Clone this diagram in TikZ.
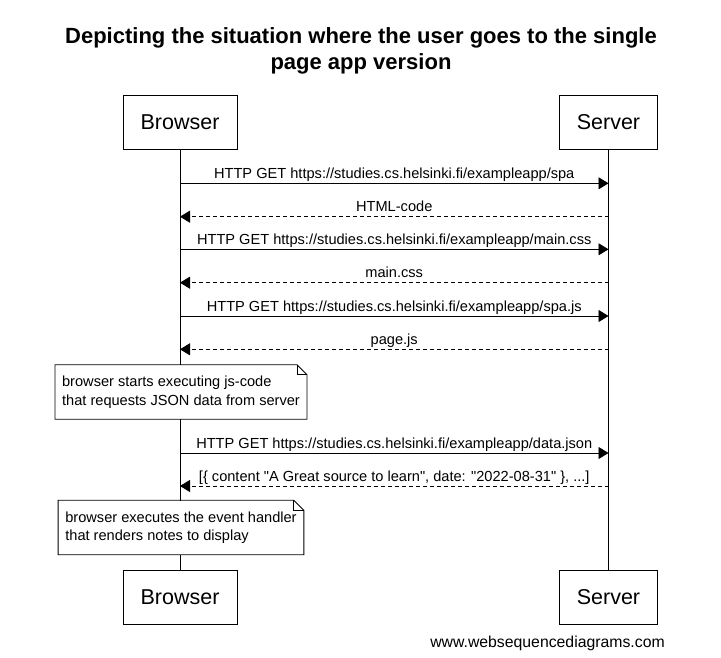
\documentclass[tikz,border=0pt]{standalone}
\usepackage{fontspec}
\setmainfont{Liberation Sans}[Ligatures=TeXOff]
\usetikzlibrary{arrows.meta}

\tikzset{
  actor/.style={draw, line width=0.8pt, minimum height=54pt, inner xsep=17.5pt,
    font=\fontsize{21.5}{26}\selectfont},
  msg/.style={line width=0.8pt, -{Triangle[length=10pt,width=12pt]}},
  reply/.style={msg, dash pattern=on 4pt off 3pt},
  lbl/.style={anchor=base, inner sep=0pt, yshift=5pt, font=\fontsize{14.6}{18}\selectfont},
  note/.style={fill=white, align=left, inner xsep=7pt, minimum height=54pt,
    font=\fontsize{14.6}{18.5}\selectfont},
  fold/.style={line width=0.8pt}
}

\begin{document}
\begin{tikzpicture}[x=1pt,y=-1pt]
\useasboundingbox (0,0) rectangle (721,658);

% Title
\node[align=center, font=\fontsize{22}{26}\selectfont\bfseries] (title) at (361,51)
  {Depicting the situation where the user goes to the single\\page app version};

% Participants
\node[actor] (browser) at (180,122) {Browser};
\node[actor] (server) at (608.5,122) {Server};
\node[actor] (browserEnd) at (180,597) {Browser};
\node[actor] (serverEnd) at (608.5,597) {Server};

% Lifelines
\draw[line width=0.8pt] (browser) -- (browserEnd);
\draw[line width=0.8pt] (server) -- (serverEnd);

% Points on the lifelines
\foreach \y [count=\i] in {183.3,216.7,249.3,282.7,316,349.3,453,486} {
    \coordinate (b\i) at (180,\y);
    \coordinate (s\i) at (608.5,\y);
}

% Messages
\draw[msg] (b1) -- node[lbl] (m1) {HTTP GET https://studies.cs.helsinki.fi/exampleapp/spa} (s1);
\draw[reply] (s2) -- node[lbl] (m2) {HTML-code} (b2);
\draw[msg] (b3) -- node[lbl] (m3) {HTTP GET https://studies.cs.helsinki.fi/exampleapp/main.css} (s3);
\draw[reply] (s4) -- node[lbl] (m4) {main.css} (b4);
\draw[msg] (b5) -- node[lbl] (m5) {HTTP GET https://studies.cs.helsinki.fi/exampleapp/spa.js} (s5);
\draw[reply] (s6) -- node[lbl] (m6) {page.js} (b6);

% Note 1
\node[note] (note1) at (181,392) {browser starts executing js-code\\that requests JSON data from server};
\draw[fold] (note1.north west) -- ([xshift=-10pt]note1.north east) -- ([yshift=-10pt]note1.north east)
  -- (note1.south east) -- (note1.south west) -- cycle;
\draw[fold] ([xshift=-10pt]note1.north east) |- ([yshift=-10pt]note1.north east);

\draw[msg] (b7) -- node[lbl] (m7) {HTTP GET https://studies.cs.helsinki.fi/exampleapp/data.json} (s7);
\draw[reply] (s8) -- node[lbl] (m8) {[\{ content "A Great source to learn", date: "2022-08-31" \}, ...]} (b8);

% Note 2
\node[note] (note2) at (181,527.5) {browser executes the event handler\\that renders notes to display};
\draw[fold] (note2.north west) -- ([xshift=-10pt]note2.north east) -- ([yshift=-10pt]note2.north east)
  -- (note2.south east) -- (note2.south west) -- cycle;
\draw[fold] ([xshift=-10pt]note2.north east) |- ([yshift=-10pt]note2.north east);

% Footer
\node[font=\fontsize{15.8}{18}\selectfont] (footer) at (547.5,643) {www.websequencediagrams.com};

\end{tikzpicture}
\end{document}
